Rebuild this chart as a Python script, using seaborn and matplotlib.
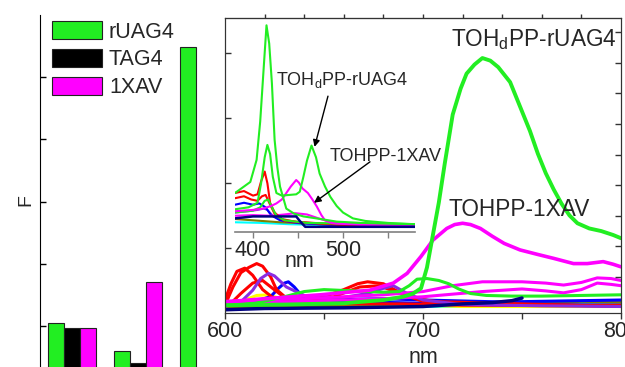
import numpy as np
import pandas as pd
import matplotlib
matplotlib.use("Agg")
import matplotlib.pyplot as plt
from matplotlib.patches import Patch
import seaborn as sns

sns.set_style("ticks")
plt.rcParams['font.family'] = ['Liberation Sans', 'DejaVu Sans']

### bar panel data
groups = ['A', 'B', 'C']
dna = ['rUAG4', 'TAG4', '1XAV']
bar_colors = ['#22EE22', '#000000', '#FF00FF']
F_rUAG4 = [1.04, 0.59, 5.48]
F_TAG4 = [0.97, 0.40, 0.0]
F_1XAV = [0.96, 1.71, 0.0]

### main spectra (nm, intensity)
green_thick_x = [600, 630, 660, 680, 690, 695, 699, 702, 705, 708, 711, 715, 719, 722, 726, 730, 734,
                 738, 744, 750, 754, 758, 762, 766, 770, 774, 778, 784, 790, 796, 800]
green_thick_y = [0.12, 0.13, 0.15, 0.2, 0.25, 0.3, 0.38, 0.7, 1.2, 1.7, 2.3, 3.05, 3.45, 3.68, 3.82, 3.92, 3.88,
                 3.78, 3.55, 3.1, 2.8, 2.45, 2.15, 1.9, 1.68, 1.5, 1.38, 1.3, 1.26, 1.2, 1.15]
green_hump_x = [600, 615, 630, 640, 650, 665, 680, 688, 693, 697, 702, 708, 713, 718, 724, 732, 745, 760, 780, 800]
green_hump_y = [0.12, 0.15, 0.25, 0.33, 0.36, 0.34, 0.32, 0.33, 0.42, 0.52, 0.53, 0.5, 0.45, 0.37, 0.3, 0.27,
                0.26, 0.26, 0.27, 0.28]
magenta_thick_x = [600, 620, 648, 673, 685, 692, 699, 705, 712, 716, 720, 724, 729, 735, 741, 749, 758, 766,
                   776, 783, 791, 796, 800]
magenta_thick_y = [0.17, 0.22, 0.28, 0.35, 0.46, 0.61, 0.87, 1.12, 1.3, 1.36, 1.38, 1.36, 1.3, 1.18, 1.07, 0.97,
                   0.9, 0.84, 0.76, 0.76, 0.79, 0.75, 0.71]
magenta_b_x = [600, 620, 640, 660, 680, 700, 715, 730, 750, 762, 771, 780, 788, 795, 800]
magenta_b_y = [0.18, 0.2, 0.22, 0.25, 0.28, 0.33, 0.42, 0.48, 0.48, 0.46, 0.43, 0.47, 0.54, 0.53, 0.5]
magenta_c_y = [0.14, 0.16, 0.18, 0.2, 0.22, 0.25, 0.29, 0.33, 0.37, 0.34, 0.31, 0.36, 0.46, 0.44, 0.42]
red_a_x = [600, 604, 608, 612, 616, 619, 623, 626, 631, 640, 650, 660, 667, 672, 680, 688, 697, 710, 730, 760, 800]
red_a_y = [0.12, 0.4, 0.62, 0.7, 0.76, 0.72, 0.56, 0.36, 0.23, 0.18, 0.25, 0.36, 0.45, 0.48, 0.45, 0.32, 0.22,
           0.16, 0.13, 0.12, 0.12]
red_b_x = [600, 603, 606, 610, 614, 619, 624, 632, 645, 665, 690, 720, 800]
red_b_y = [0.2, 0.45, 0.64, 0.69, 0.58, 0.36, 0.24, 0.17, 0.15, 0.14, 0.14, 0.12, 0.11]
red_c_x = [600, 604, 608, 614, 619, 624, 630, 640, 655, 668, 678, 690, 700, 800]
red_c_y = [0.1, 0.18, 0.3, 0.46, 0.5, 0.38, 0.24, 0.16, 0.25, 0.4, 0.42, 0.28, 0.18, 0.1]
purple_x = [600, 608, 614, 618, 622, 625, 631, 640, 648, 660, 672, 680, 685, 692, 700, 720, 760, 800]
purple_y = [0.1, 0.17, 0.35, 0.53, 0.61, 0.57, 0.4, 0.27, 0.23, 0.24, 0.3, 0.38, 0.42, 0.3, 0.2, 0.13, 0.11, 0.1]
blue_x = [600, 614, 623, 627, 630, 632, 635, 640, 650, 670, 700, 740, 800]
blue_y = [0.12, 0.17, 0.25, 0.38, 0.46, 0.48, 0.4, 0.22, 0.18, 0.17, 0.15, 0.13, 0.12]
blue2_x = [600, 640, 680, 700, 740, 800]
blue2_y = [0.15, 0.2, 0.22, 0.2, 0.17, 0.2]
yellow_x = [600, 610, 616, 622, 628, 640, 680, 720, 800]
yellow_y = [0.12, 0.2, 0.27, 0.28, 0.22, 0.15, 0.14, 0.1, 0.1]
navy_x = [600, 620, 660, 700, 720, 735, 745, 750]
navy_y = [0.05, 0.07, 0.08, 0.1, 0.14, 0.16, 0.19, 0.23]
olive_x = [600, 650, 700, 740, 760, 780, 800]
olive_y = [0.08, 0.1, 0.12, 0.14, 0.15, 0.18, 0.17]
cyan_x = [600, 650, 700, 750, 780, 800]
cyan_y = [0.07, 0.09, 0.1, 0.11, 0.16, 0.14]

### inset spectra
in_green_a_x = [380, 390, 397, 404, 408, 412, 415, 418, 421, 424, 427, 430, 437, 446, 456, 475, 493, 520, 550, 580]
in_green_a_y = [0.6, 0.7, 0.77, 1.11, 1.7, 2.55, 3.18, 2.9, 2.29, 1.42, 1.0, 0.7, 0.36, 0.28, 0.24, 0.2, 0.16,
                0.14, 0.13, 0.12]
in_green_b_x = [380, 395, 405, 409, 413, 416, 419, 422, 426, 432, 440, 448, 452, 456, 460, 465, 470, 474, 480,
                486, 493, 500, 511, 525, 550, 580]
in_green_b_y = [0.35, 0.38, 0.45, 0.75, 1.15, 1.34, 1.2, 0.85, 0.6, 0.56, 0.57, 0.58, 0.62, 0.85, 1.1, 1.33,
                1.15, 0.9, 0.7, 0.54, 0.4, 0.3, 0.21, 0.17, 0.14, 0.12]
in_green_c_x = [380, 400, 408, 413, 417, 421, 426, 435, 460, 580]
in_green_c_y = [0.3, 0.33, 0.38, 0.48, 0.5, 0.38, 0.25, 0.18, 0.14, 0.11]
in_red_a_x = [380, 390, 400, 405, 409, 413, 416, 419, 424, 432, 450, 500, 580]
in_red_a_y = [0.6, 0.63, 0.56, 0.58, 0.78, 0.93, 0.75, 0.45, 0.3, 0.2, 0.15, 0.11, 0.1]
in_red_b_x = [380, 390, 398, 405, 410, 414, 418, 424, 435, 500, 580]
in_red_b_y = [0.52, 0.55, 0.5, 0.48, 0.55, 0.57, 0.45, 0.28, 0.17, 0.11, 0.1]
in_magenta_a_x = [380, 400, 411, 420, 426, 432, 437, 442, 448, 451, 455, 461, 466, 471, 476, 480, 487, 493, 520, 580]
in_magenta_a_y = [0.32, 0.34, 0.36, 0.4, 0.44, 0.5, 0.6, 0.7, 0.8, 0.76, 0.67, 0.6, 0.5, 0.39, 0.26, 0.18,
                  0.14, 0.13, 0.11, 0.1]
in_magenta_b_x = [380, 400, 420, 435, 447, 460, 475, 490, 520, 580]
in_magenta_b_y = [0.25, 0.26, 0.25, 0.27, 0.29, 0.27, 0.2, 0.14, 0.11, 0.1]
in_blue_x = [380, 390, 400, 407, 414, 420, 430, 450, 500, 580]
in_blue_y = [0.42, 0.45, 0.42, 0.44, 0.38, 0.26, 0.18, 0.14, 0.1, 0.09]
in_purple_x = [380, 395, 405, 412, 416, 422, 432, 450, 500, 580]
in_purple_y = [0.3, 0.32, 0.34, 0.36, 0.34, 0.25, 0.18, 0.14, 0.1, 0.09]
in_navy_x = [380, 400, 420, 440, 448, 452, 458, 500, 580]
in_navy_y = [0.21, 0.24, 0.24, 0.24, 0.24, 0.17, 0.08, 0.08, 0.08]
in_olive_x = [380, 400, 430, 460, 500, 580]
in_olive_y = [0.2, 0.18, 0.15, 0.13, 0.11, 0.1]
in_cyan_x = [380, 410, 440, 500, 580]
in_cyan_y = [0.15, 0.14, 0.12, 0.1, 0.09]

label_rUAG4 = 'TOH$_\\mathregular{d}$PP-rUAG4'
label_1XAV = 'TOHPP-1XAV'

fig = plt.figure(figsize=(6.25, 3.67), dpi=100)

#bar panel, bottom runs off the figure
ax_bar = fig.add_axes([0.064, -0.0572, 0.28, 1.0163])
bar_df = pd.DataFrame({'group': np.repeat(groups, 3),
                       'dna': dna * 3,
                       'F': [v for trio in zip(F_rUAG4, F_TAG4, F_1XAV) for v in trio]})
sns.barplot(data=bar_df, x='group', y='F', hue='dna', palette=bar_colors, width=0.73,
            saturation=1, edgecolor='#222222', linewidth=0.8, legend=False, ax=ax_bar)
ax_bar.set_xlim(-0.485, 2.167)
ax_bar.set_ylim(0, 6)
for s in ['top', 'right', 'bottom']:
    ax_bar.spines[s].set_visible(False)
ax_bar.spines['left'].set_color('black')
ax_bar.set_xticks([])
ax_bar.set_xlabel('')
ax_bar.set_yticks([1, 2, 3, 4, 5])
ax_bar.set_yticklabels([])
ax_bar.tick_params(axis='y', direction='in', length=4, width=1, color='black')
ax_bar.set_ylabel('F', fontsize=14)
ax_bar.yaxis.set_label_coords(-0.03, 0.504)
handles = [Patch(facecolor=c, edgecolor='#222222', linewidth=0.8, label=l) for c, l in zip(bar_colors, dna)]
ax_bar.legend(handles=handles, loc='upper left', bbox_to_anchor=(0.083, 0.942),
              bbox_transform=fig.transFigure, frameon=False, fontsize=15.5, borderpad=0,
              borderaxespad=0, handlelength=2.35, handleheight=0.9, handletextpad=0.3, labelspacing=0.3)

#main spectra panel
ax = fig.add_axes([0.36, 0.1471, 0.6336, 0.8046])
thin = [(cyan_x, cyan_y, '#00FFFF'), (olive_x, olive_y, '#808000'), (yellow_x, yellow_y, '#FFFF00'),
        (blue2_x, blue2_y, '#0000FF'), (blue_x, blue_y, '#0000FF'), (red_c_x, red_c_y, '#FF0000'),
        (red_b_x, red_b_y, '#FF0000'), (red_a_x, red_a_y, '#FF0000'), (purple_x, purple_y, '#8A2BE2'),
        (magenta_b_x, magenta_c_y, '#FF00FF'), (magenta_b_x, magenta_b_y, '#FF00FF'),
        (green_hump_x, green_hump_y, '#22EE22')]
for xs, ys, c in thin:
    sns.lineplot(x=xs, y=ys, color=c, lw=2.2, ax=ax)
sns.lineplot(x=navy_x, y=navy_y, color='#000080', lw=2.5, ax=ax, solid_capstyle='round')
sns.lineplot(x=magenta_thick_x, y=magenta_thick_y, color='#FF00FF', lw=2.6, ax=ax)
sns.lineplot(x=green_thick_x, y=green_thick_y, color='#22EE22', lw=2.8, ax=ax)
ax.set_xlim(600, 800)
ax.set_ylim(0, 4.54)
ax.set_xticks([600, 700, 800])
ax.set_xticks([650, 750], minor=True)
ax.set_yticks([1, 2, 3, 4])
ax.set_yticklabels([])
ax.tick_params(axis='x', which='both', direction='out', length=4, width=1, labelsize=15.5, pad=2,
               color='#333333')
ax.tick_params(axis='y', direction='in', length=4, width=1, color='#333333')
for s in ax.spines.values():
    s.set_color('#333333')
ax.set_xlabel('nm', fontsize=15.5)
ax.xaxis.set_label_coords(0.5, -0.115)
ax.set_ylabel('')
ax.text(756, 4.25, label_rUAG4, fontsize=16.3, ha='center', va='center_baseline')
ax.text(748.5, 1.63, label_1XAV, fontsize=16.3, ha='center', va='center_baseline')

ax_top = ax.secondary_xaxis('top')
ax_top.set_xticks(list(range(620, 800, 20)))
ax_top.set_xticklabels([])
ax_top.tick_params(direction='out', length=3, width=1, color='#333333')
ax_top.spines['top'].set_color('#333333')

ax_r = ax.twinx()
ax_r.set_ylim(-1.176, 8.47)
ax_r.set_yticks(list(range(0, 9)))
ax_r.set_yticklabels([])
ax_r.tick_params(axis='y', direction='in', length=4, width=1, color='#333333')
for s in ax_r.spines.values():
    s.set_color('#333333')

#inset with the Soret region
ax_in = fig.add_axes([0.376, 0.3678, 0.288, 0.5845])
ax_in.patch.set_alpha(0)
inset_lines = [(in_cyan_x, in_cyan_y, '#00FFFF'), (in_olive_x, in_olive_y, '#808000'),
               (in_purple_x, in_purple_y, '#8A2BE2'), (in_blue_x, in_blue_y, '#0000FF'),
               (in_magenta_b_x, in_magenta_b_y, '#FF00FF'), (in_red_b_x, in_red_b_y, '#FF0000'),
               (in_red_a_x, in_red_a_y, '#FF0000'), (in_green_c_x, in_green_c_y, '#22EE22'),
               (in_magenta_a_x, in_magenta_a_y, '#FF00FF'), (in_green_b_x, in_green_b_y, '#22EE22'),
               (in_green_a_x, in_green_a_y, '#22EE22')]
for xs, ys, c in inset_lines:
    sns.lineplot(x=xs, y=ys, color=c, lw=1.5, ax=ax_in)
sns.lineplot(x=in_navy_x, y=in_navy_y, color='#000080', lw=1.8, ax=ax_in)
ax_in.set_xlim(380, 580)
ax_in.set_ylim(0, 3.3)
for s in ['top', 'right', 'left']:
    ax_in.spines[s].set_visible(False)
ax_in.spines['bottom'].set_color('#808080')
ax_in.spines['bottom'].set_linewidth(1.2)
ax_in.set_yticks([])
ax_in.set_xticks([400, 500])
ax_in.set_xticks([450, 550], minor=True)
ax_in.tick_params(axis='x', which='both', direction='out', length=4, width=1, color='#808080',
                  labelsize=15.5, pad=2)
ax_in.set_xlabel('nm', fontsize=15.5)
ax_in.xaxis.set_label_coords(0.356, -0.09)
ax_in.set_ylabel('')
ax_in.text(498.9, 2.38, label_rUAG4, fontsize=13, ha='center', va='center_baseline')
ax_in.text(547.8, 1.19, label_1XAV, fontsize=13, ha='center', va='center_baseline')
arrow = dict(arrowstyle='-|>', color='black', lw=1, mutation_scale=10, shrinkA=0, shrinkB=0)
ax_in.annotate('', xy=(468.4, 1.31), xytext=(483.3, 2.09), arrowprops=arrow)
ax_in.annotate('', xy=(467.8, 0.45), xytext=(530, 1.08), arrowprops=arrow)

fig.savefig('out.png', dpi=100)
